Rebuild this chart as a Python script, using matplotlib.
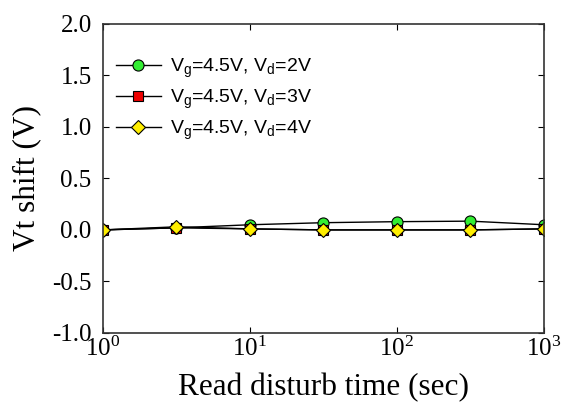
import numpy as np
import matplotlib.pyplot as plt
from matplotlib.ticker import LogFormatterMathtext, FixedLocator, NullLocator

plt.rcParams['font.family'] = 'Liberation Serif'
plt.rcParams['mathtext.fontset'] = 'custom'
plt.rcParams['mathtext.rm'] = 'Liberation Serif'

## tempos de leitura (s) e deslocamento de Vt (V)
t = [1, 3.16, 10, 31.6, 100, 316, 1000]
vt_vd2 = [0.00, 0.02, 0.05, 0.07, 0.08, 0.085, 0.05]
vt_vd3 = [0.00, 0.02, 0.01, 0.00, 0.00, 0.00, 0.01]
vt_vd4 = [0.00, 0.03, 0.01, 0.00, 0.00, 0.00, 0.01]
labels = ['$\\mathregular{V_g}$=4.5V, $\\mathregular{V_d}$=2V',
          '$\\mathregular{V_g}$=4.5V, $\\mathregular{V_d}$=3V',
          '$\\mathregular{V_g}$=4.5V, $\\mathregular{V_d}$=4V']

fig = plt.figure(figsize=(5.62, 4.13), dpi=100)
ax = fig.add_axes([0.183, 0.194, 0.785, 0.748])

ax.plot(t, vt_vd2, '-o', color='black', lw=1, mfc='#33ee33', mec='black', ms=8, mew=0.8, label=labels[0])
ax.plot(t, vt_vd3, '-s', color='black', lw=1, mfc='#ee0000', mec='black', ms=7, mew=0.8, label=labels[1])
ax.plot(t, vt_vd4, '-D', color='black', lw=1, mfc='#ffee00', mec='black', ms=7, mew=0.8, label=labels[2])

ax.set_xscale('log')
ax.set_xlim(1, 1000)
ax.set_ylim(-1.0, 2.0)
ax.xaxis.set_major_locator(FixedLocator([1, 10, 100, 1000]))
ax.xaxis.set_minor_locator(NullLocator())
ax.xaxis.set_major_formatter(LogFormatterMathtext())
ax.set_yticks(np.arange(-1.0, 2.01, 0.5))
ax.set_yticklabels(['%.1f' % v for v in np.arange(-1.0, 2.01, 0.5)])
ax.tick_params(direction='in', top=True, right=True, labelsize=18, length=4)
ax.tick_params(axis='y', pad=8)
ax.tick_params(axis='x', pad=3)
for s in ax.spines.values():
    s.set_linewidth(1.2)
    s.set_color('#333333')

ax.set_xlabel('Read disturb time (sec)', fontsize=22.5, labelpad=8)
ax.set_ylabel('Vt shift (V)', fontsize=22.5, labelpad=8)

leg = ax.legend(loc='upper left', bbox_to_anchor=(-0.01, 0.95), frameon=False,
                prop={'family': 'Liberation Sans', 'size': 14}, handlelength=2.3,
                handletextpad=0.5, labelspacing=0.4)

plt.savefig('out.png', dpi=100)
